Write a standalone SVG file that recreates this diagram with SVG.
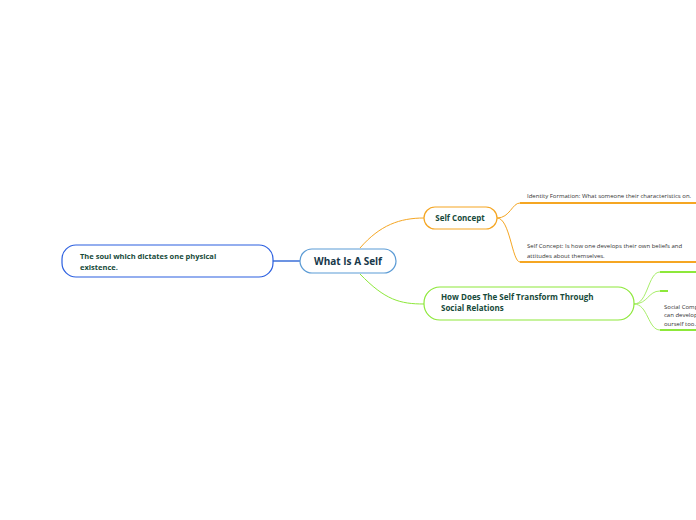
<svg xmlns="http://www.w3.org/2000/svg" width="696" height="520" viewBox="0 0 696 520">
<style>
text{font-family:"Open Sans","Noto Sans",sans-serif;fill:#17384a}
.b{font-weight:bold;fill:#174a3a}
.s{font-size:6px;fill:#333}
path{fill:none}
</style>
<rect width="696" height="520" fill="#fff"/>
<g id="connectors">
<path d="M273 261H300" stroke="#3b6fd8" stroke-width="1.5"/>
<path d="M360 248C380 225 400 218 424 218" stroke="#f5a623" stroke-width="1"/>
<path d="M360 274C385 300 400 304 424 304" stroke="#8de83a" stroke-width="1"/>
<path d="M497 218C510 218 512 203 520 203H696M497 218C510 218 512 262 520 262H696" stroke="#f5a623" stroke-width="1"/>
<path d="M634 304C648 304 648 272 660 272H696M634 304C648 304 648 291 660 291H668M634 304C648 304 648 330 660 330H696" stroke="#a8ee6a" stroke-width="1"/>
<path d="M520 203H696M520 262H696" stroke="#f5a623" stroke-width="2"/>
<path d="M660 272H696M660 291H668M660 330H696" stroke="#8de83a" stroke-width="2"/>
</g>
<g id="root"><rect x="300" y="249" width="96" height="24" rx="12" fill="#fff" stroke="#5b9bd5" stroke-width="1.2"/><text x="348" y="265" text-anchor="middle" font-size="10" font-weight="bold">What Is A Self</text></g>
<g id="soul"><rect x="62" y="245" width="211" height="32" rx="14" fill="#fff" stroke="#2b5fe0" stroke-width="1.2"/><text class="b" x="80" y="259" font-size="7.5">The soul which dictates one physical</text><text class="b" x="80" y="270" font-size="7.5">existence.</text></g>
<g id="selfconcept"><rect x="424" y="207" width="73" height="22" rx="11" fill="#fff" stroke="#f5a623" stroke-width="1.2"/><text class="b" x="460" y="221" text-anchor="middle" font-size="8">Self Concept</text></g>
<g id="transform"><rect x="424" y="287" width="210" height="33" rx="16" fill="#fff" stroke="#8de83a" stroke-width="1.2"/><text class="b" x="441" y="300" font-size="8">How Does The Self Transform Through</text><text class="b" x="441" y="311" font-size="8">Social Relations</text></g>
<g id="identity"><text class="s" x="527" y="198">Identity Formation: What someone  their characteristics on.</text></g>
<g id="selfconcept2"><text class="s" x="527" y="248">Self Concept: Is how one develops their own beliefs and</text><text class="s" x="527" y="258">attitudes about themselves.</text></g>
<g id="socialcomp"><text class="s" x="664" y="309">Social Comp</text><text class="s" x="664" y="317">can develop</text><text class="s" x="664" y="326">ourself too.</text></g>
</svg>
